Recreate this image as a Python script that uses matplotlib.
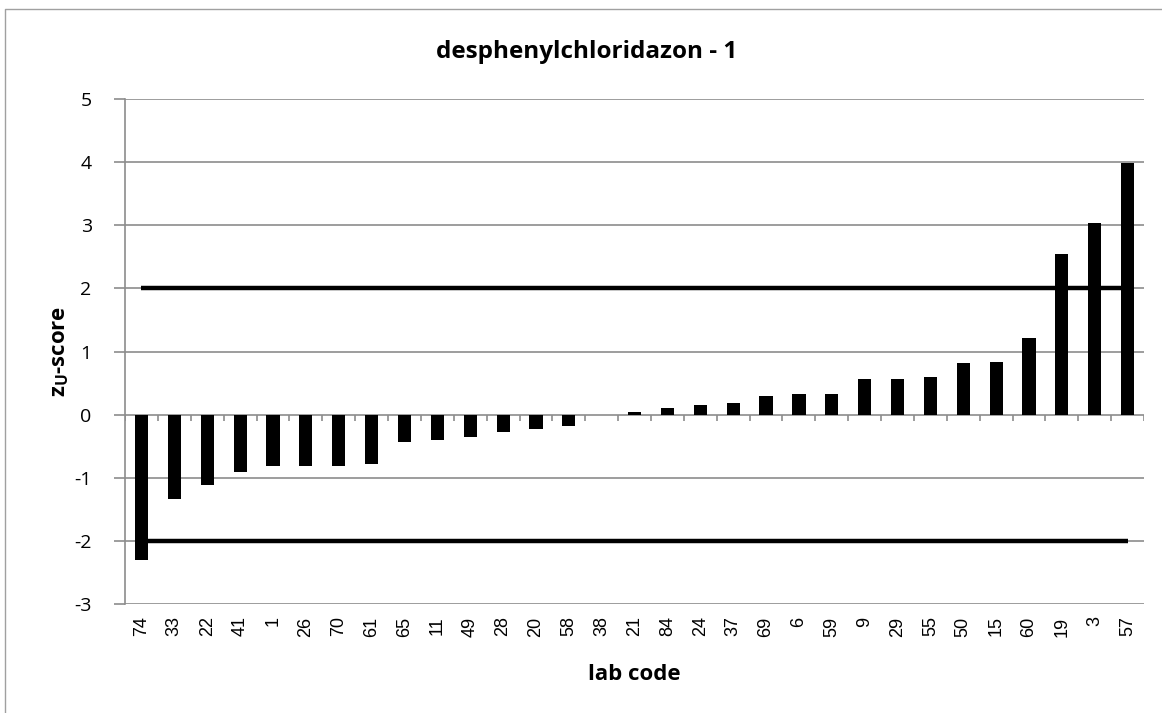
import matplotlib.pyplot as plt
import numpy as np
from matplotlib.lines import Line2D

labs = ['74', '33', '22', '41', '1', '26', '70', '61', '65', '11', '49', '28', '20', '58', '38',
        '21', '84', '24', '37', '69', '6', '59', '9', '29', '55', '50', '15', '60', '19', '3', '57']
zscores = [-2.31, -1.33, -1.12, -0.91, -0.82, -0.82, -0.82, -0.78, -0.44, -0.41, -0.36, -0.28,
           -0.23, -0.18, -0.01, 0.04, 0.11, 0.15, 0.18, 0.29, 0.32, 0.32, 0.56, 0.56, 0.60,
           0.81, 0.84, 1.21, 2.55, 3.04, 3.98]
limits = [2, -2]

plt.rcParams['font.family'] = ['Open Sans', 'DejaVu Sans']
plt.rcParams['axes.unicode_minus'] = False

fig = plt.figure(figsize=(11.62, 7.13), dpi=100)
# outer chart frame (only top and left edges visible in the crop)
fig.lines.append(Line2D([0.0045, 0.0045, 1.0], [0.0, 0.9874, 0.9874], transform=fig.transFigure,
                        color='#a0a0a0', linewidth=1))
ax = fig.add_axes([0.1076, 0.153, 0.877, 0.708])

x = np.arange(len(labs))
grid = '#8c8c8c'
for yv in range(-3, 6):
    ax.axhline(yv, color=grid, linewidth=1.2, zorder=1)

ax.bar(x, zscores, width=0.4, color='black', zorder=3)
for lim in limits:
    ax.plot([x[0], x[-1]], [lim, lim], color='black', linewidth=3.2, zorder=4,
            solid_capstyle='butt')

# category tick marks on the zero line
ax.vlines(np.arange(len(labs) + 1) - 0.5, 0, -0.1, color=grid, linewidth=1.2, zorder=2)

ax.set_xlim(-0.5, len(labs) - 0.5)
ax.set_ylim(-3, 5)
ax.set_yticks(range(-3, 6))
ax.set_xticks(x)
ax.set_xticklabels(labs, rotation=90, fontsize=13, family=['Liberation Sans', 'DejaVu Sans'])
ax.tick_params(axis='x', length=0, pad=9)
ax.tick_params(axis='y', labelsize=14, length=8, color=grid, width=1.2, pad=16)
for s in ['top', 'right', 'bottom']:
    ax.spines[s].set_visible(False)
ax.spines['left'].set_color(grid)
ax.spines['left'].set_linewidth(1.2)

fig.text(0.505, 0.927, 'desphenylchloridazon - 1', fontsize=17.5, fontweight='bold',
         ha='center', va='center')
ax.set_xlabel('lab code', fontsize=16, fontweight='bold', labelpad=20)
ax.set_ylabel(r'z$_\mathregular{U}$-score', fontsize=16, fontweight='bold', labelpad=2)

fig.savefig('out.png', dpi=100)
